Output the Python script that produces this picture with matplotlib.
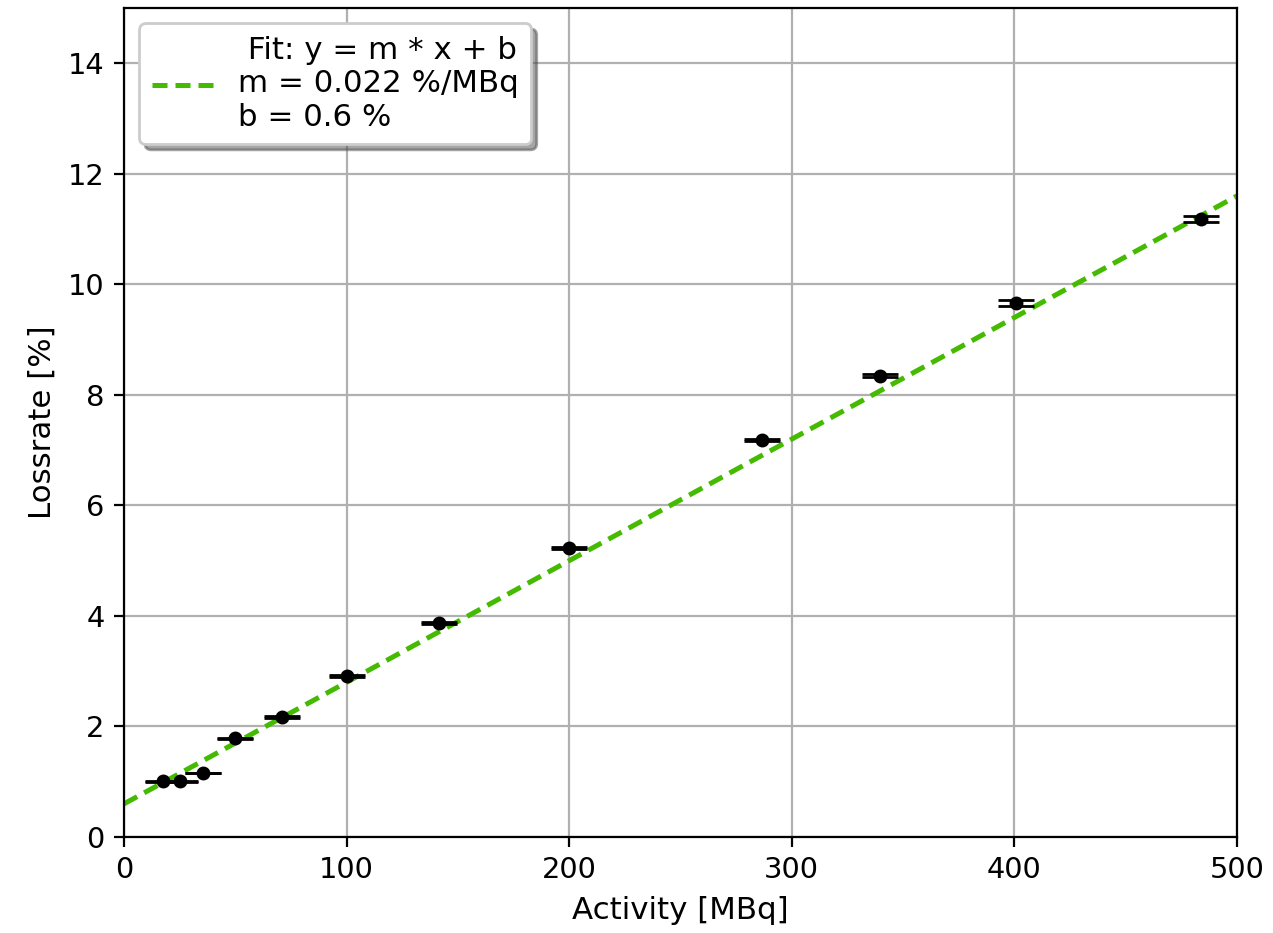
import numpy as np
import matplotlib
matplotlib.use("Agg")
import matplotlib.pyplot as plt

# measured data
activity = [17.5, 25.2, 35.5, 50.0, 71.0, 100.0, 141.5, 200.0, 286.6, 339.6, 400.7, 483.8]
lossrate = [1.01, 1.01, 1.16, 1.79, 2.17, 2.91, 3.87, 5.23, 7.18, 8.35, 9.66, 11.19]
loss_err = [0.006, 0.006, 0.007, 0.009, 0.011, 0.013, 0.016, 0.02, 0.022, 0.022, 0.052, 0.055]

# fit parameters
m_fit = 0.022
b_fit = 0.6
fit_x = [0, 500]

fig = plt.figure(figsize=(6.365, 4.665), dpi=200)
ax = fig.add_axes([124 / 1273, 1 - 837 / 933, 1113 / 1273, 829 / 933])

ax.errorbar(activity, lossrate, yerr=loss_err, fmt="o", color="black",
            ms=4, capsize=6.6, capthick=1.0, elinewidth=1.0, zorder=3)

fx = np.array(fit_x)
ax.plot(fx, m_fit * fx + b_fit, "--", color="#44bb00", lw=1.8,
        dashes=(3.0, 1.6),
        label=" Fit: y = m * x + b\nm = 0.022 %/MBq\nb = 0.6 %", zorder=2)

ax.set_xlim(0, 500)
ax.set_ylim(0, 15)
ax.set_xlabel("Activity [MBq]", fontsize=11.1)
ax.set_ylabel("Lossrate [%]", fontsize=11.1)
ax.tick_params(labelsize=10.4)
ax.grid(True, color="#b0b0b0")
ax.set_axisbelow(True)
ax.legend(loc="upper left", shadow=True, fontsize=11.1)

plt.savefig("out.png", dpi=200)
